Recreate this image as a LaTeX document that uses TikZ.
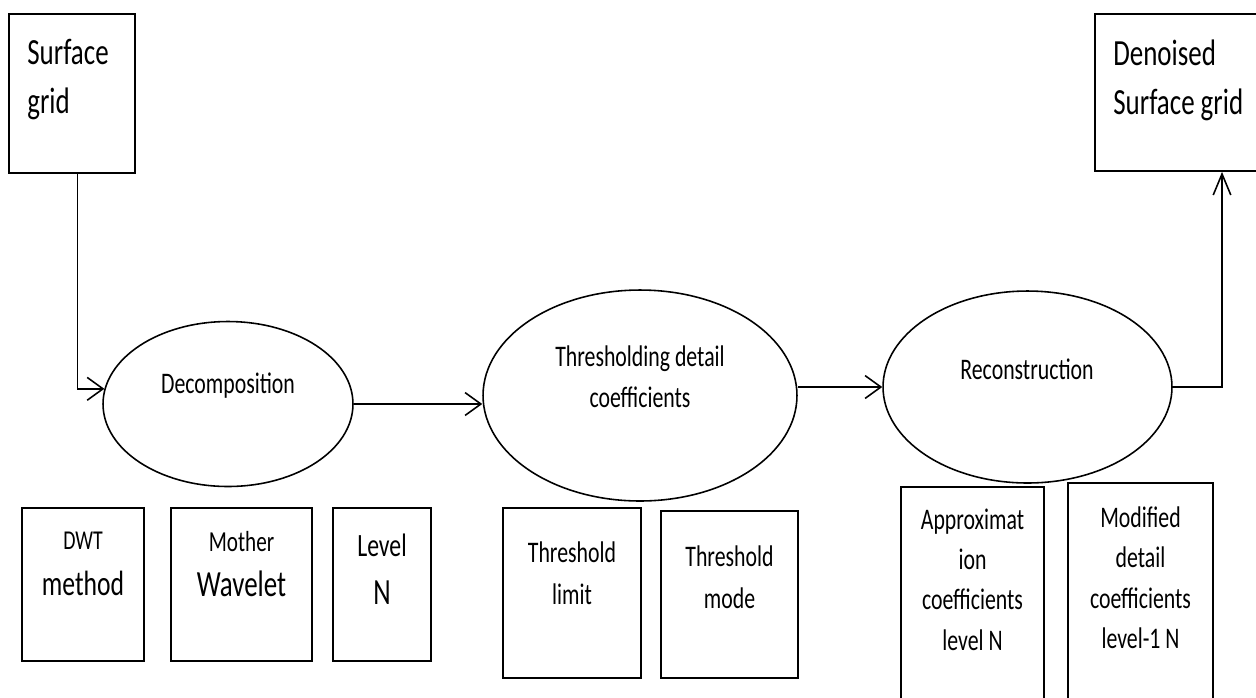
\documentclass[tikz,border=0pt]{standalone}
\usepackage{fontspec}
\setmainfont{Carlito}[FakeStretch=0.73]
\usetikzlibrary{
    arrows.meta,
    shapes.geometric,
    positioning
}
\tikzset{
    blockbox/.style={draw, rectangle, line width=1pt, inner sep=0pt},
    stage/.style={draw, ellipse, line width=0.9pt, inner sep=0pt},
    bigtxt/.style={inner sep=0pt, align=left, font=\fontsize{21}{27.8}\selectfont},
    midtxt/.style={inner sep=0pt, align=center, font=\fontsize{17}{23.5}\selectfont},
    flow/.style={line width=0.9pt, -{Straight Barb[length=9pt,width=13pt]}},
    upflow/.style={line width=0.9pt, -{Straight Barb[length=12pt,width=10pt]}}
}

\begin{document}
\begin{tikzpicture}[x=0.02cm, y=-0.02cm]
                        \useasboundingbox (0,0) rectangle (1256,697);
                        \clip (0,0) rectangle (1256,697);
                        % input and output grids
                        \node[blockbox, minimum width=2.52cm, minimum height=3.18cm] (grid) at (72,93.5) {};
                        \node[bigtxt, anchor=north west] (gridtxt) at (27,39) {Surface\\grid};
                        \node[blockbox, minimum width=3.4cm, minimum height=3.14cm] (denoised) at (1180,92.5) {};
                        \node[bigtxt, anchor=north west] (denoisedtxt) at (1113,40) {Denoised\\Surface grid};
                        % stages
                        \node[stage, minimum width=5cm, minimum height=3.3cm] (dec) at (228,404) {};
                        \node[midtxt] (dectxt) at (228,386) {Decomposition};
                        \node[stage, minimum width=6.28cm, minimum height=4.22cm] (thr) at (640,395.5) {};
                        \node[midtxt] (thrtxt) at (640,377) {Thresholding detail\\coefficients};
                        \node[stage, minimum width=5.78cm, minimum height=3.84cm] (rec) at (1027.5,387) {};
                        \node[midtxt] (rectxt) at (1027,369) {Reconstruction};
                        % parameters
                        \node[blockbox, minimum width=2.44cm, minimum height=3.06cm] (dwt) at (83,584.5) {};
                        \node[midtxt, anchor=north, font=\fontsize{15.5}{26}\selectfont] (dwttxt)
                            at ([yshift=-0.5cm]dwt.north) {DWT\\{\fontsize{20}{24}\selectfont method}};
                        \node[blockbox, minimum width=2.82cm, minimum height=3.06cm] (mw) at (241.5,584.5) {};
                        \node[midtxt, anchor=north, font=\fontsize{16.5}{25.5}\selectfont] (mwtxt)
                            at ([yshift=-0.48cm]mw.north) {Mother\\{\fontsize{21}{24}\selectfont Wavelet}};
                        \node[blockbox, minimum width=1.96cm, minimum height=3.06cm] (lvl) at (382,584.5) {};
                        \node[midtxt, anchor=north, font=\fontsize{18.5}{27.8}\selectfont] (lvltxt)
                            at ([yshift=-0.52cm]lvl.north) {Level\\{\fontsize{21}{24}\selectfont N}};
                        \node[blockbox, minimum width=2.76cm, minimum height=3.4cm] (tl) at (572,593) {};
                        \node[midtxt, anchor=north, font=\fontsize{17}{24}\selectfont] (tltxt)
                            at ([yshift=-0.68cm]tl.north) {Threshold\\limit};
                        \node[blockbox, minimum width=2.74cm, minimum height=3.34cm] (tm) at (729.5,594.5) {};
                        \node[midtxt, anchor=north, font=\fontsize{17}{24}\selectfont] (tmtxt)
                            at ([yshift=-0.7cm]tm.north) {Threshold\\mode};
                        \node[blockbox, minimum width=2.86cm, minimum height=4.66cm] (apx) at (972.5,603.5) {};
                        \node[midtxt, anchor=north, font=\fontsize{17}{23}\selectfont] (apxtxt)
                            at ([yshift=-0.44cm]apx.north) {Approximat\\ion\\coefficients\\level N};
                        \node[blockbox, minimum width=2.9cm, minimum height=4.74cm] (mod) at (1140.5,601.5) {};
                        \node[midtxt, anchor=north, font=\fontsize{17}{23}\selectfont] (modtxt)
                            at ([yshift=-0.48cm]mod.north) {Modified\\detail\\coefficients\\level-1 N};
                        % flow
                        \draw[flow] ([xshift=0.11cm]grid.south) |- (dec.173);
                        \draw[flow] (dec.east) -- (dec.east -| thr.west);
                        \draw[flow] (thr.east |- rec.west) -- (rec.west);
                        \draw[upflow] (rec.east) -| ([xshift=0.84cm]denoised.south);
                    \end{tikzpicture}
\end{document}
